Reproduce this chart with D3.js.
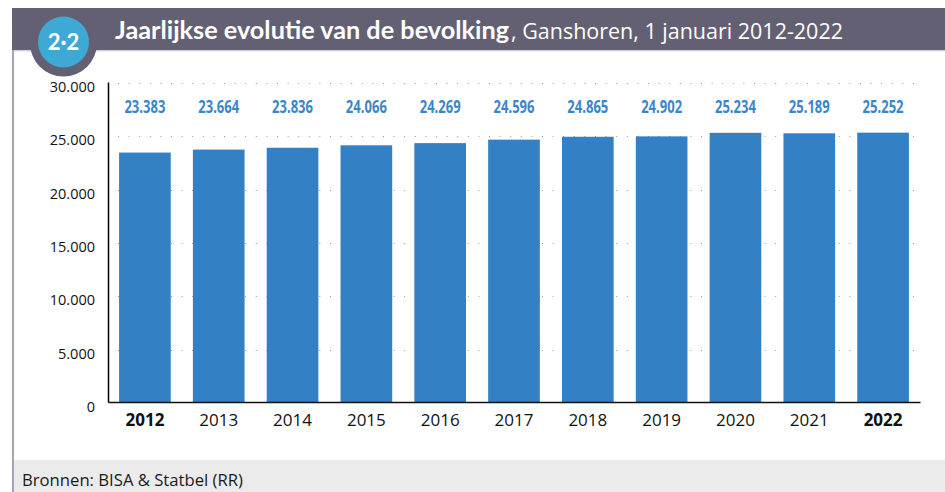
<!DOCTYPE html>
<html>
<head>
<meta charset="utf-8">
<script src="https://cdn.jsdelivr.net/npm/d3@7"></script>
<style>
  body { margin: 0; background: #fff; }
  svg { display: block; }
</style>
</head>
<body>
<div id="chart-area"></div>
<script>
// data
var years = ["2012", "2013", "2014", "2015", "2016", "2017", "2018", "2019", "2020", "2021", "2022"]
var population = [23383, 23664, 23836, 24066, 24269, 24596, 24865, 24902, 25234, 25189, 25252]
var boldYears = ["2012", "2022"]
var yTicks = [0, 5000, 10000, 15000, 20000, 25000, 30000]

var width = 945, height = 492

var svg = d3.select("#chart-area").append("svg")
    .attr("width", width)
    .attr("height", height)

// frame: left border, header band, footer band
svg.append("rect")
    .attr("x", 12).attr("y", 8).attr("width", 2).attr("height", height - 8)
    .attr("fill", "#a7a4b4")
svg.append("rect")
    .attr("x", 12).attr("y", 8).attr("width", width - 12).attr("height", 42)
    .attr("fill", "#646073")
svg.append("rect")
    .attr("x", 14).attr("y", 50).attr("width", width - 14).attr("height", 1.5)
    .attr("fill", "#d6d4de")
svg.append("rect")
    .attr("x", 14).attr("y", 460).attr("width", width - 14).attr("height", 32)
    .attr("fill", "#ebebeb")

// badge
svg.append("circle").attr("cx", 63.5).attr("cy", 43).attr("r", 33.5).attr("fill", "#646073")
svg.append("circle").attr("cx", 63.5).attr("cy", 42).attr("r", 25.5).attr("fill", "#3fa9d6")
svg.append("text")
    .attr("x", 63.5).attr("y", 50)
    .attr("text-anchor", "middle")
    .attr("fill", "#fff")
    .attr("font-family", "Lato, 'DejaVu Sans', sans-serif")
    .attr("font-weight", "bold")
    .attr("font-size", 22)
    .text("2·2")

// title (two pieces)
svg.append("text")
    .attr("x", 115).attr("y", 39)
    .attr("fill", "#fff")
    .attr("font-family", "Lato, sans-serif")
    .attr("font-weight", "bold").attr("font-size", 24)
    .attr("textLength", 394).attr("lengthAdjust", "spacingAndGlyphs")
    .text("Jaarlijkse evolutie van de bevolking")
svg.append("text")
    .attr("x", 511).attr("y", 39)
    .attr("fill", "#fff")
    .attr("font-family", "'Open Sans', sans-serif")
    .attr("font-size", 21)
    .attr("textLength", 332).attr("lengthAdjust", "spacingAndGlyphs")
    .text(", Ganshoren, 1 januari 2012-2022")

// footer text
svg.append("text")
    .attr("x", 22).attr("y", 486)
    .attr("fill", "#1a1a1a")
    .attr("font-family", "'Open Sans', sans-serif")
    .attr("font-size", 16)
    .attr("textLength", 221).attr("lengthAdjust", "spacingAndGlyphs")
    .text("Bronnen: BISA & Statbel (RR)")

// scales
var x = d3.scaleBand()
    .domain(years)
    .range([108, 920])
    .paddingInner(0.3)
    .paddingOuter(0.15)

var y = d3.scaleLinear()
    .domain([0, 30000])
    .range([402, 82])

// dotted gridlines
svg.append("g")
    .selectAll("line")
    .data(yTicks.filter(function(d){ return d > 0 }))
    .enter()
    .append("line")
    .attr("x1", 118).attr("x2", 920)
    .attr("y1", function(d){ return Math.round(y(d)) + 1.5 })
    .attr("y2", function(d){ return Math.round(y(d)) + 1.5 })
    .attr("stroke", "#999")
    .attr("stroke-width", 1)
    .attr("stroke-dasharray", "1,9.6")

// bars
svg.append("g")
    .selectAll("rect")
    .data(population)
    .enter()
    .append("rect")
    .attr("x", function(d, i){ return x(years[i]) })
    .attr("y", function(d){ return y(d) })
    .attr("width", x.bandwidth())
    .attr("height", function(d){ return y(0) - y(d) })
    .attr("fill", "#3380c4")

// value labels
var fmt = d3.formatLocale({decimal: ",", thousands: ".", grouping: [3], currency: ["€", ""]}).format(",")
svg.append("g")
    .selectAll("text")
    .data(population)
    .enter()
    .append("text")
    .attr("x", function(d, i){ return x(years[i]) + x.bandwidth() / 2 - 20.5 })
    .attr("y", 112.5)
    .attr("fill", "#3a86c9")
    .attr("font-family", "'Open Sans', sans-serif")
    .attr("font-weight", "bold")
    .attr("font-size", 17)
    .attr("textLength", 41).attr("lengthAdjust", "spacingAndGlyphs")
    .text(function(d){ return fmt(d) })

// y axis
var yAxis = d3.axisLeft(y)
    .tickValues(yTicks)
    .tickSize(0)
    .tickPadding(13)
    .tickFormat(function(d){ return fmt(d) })
var gy = svg.append("g")
    .attr("transform", "translate(108,0)")
    .call(yAxis)
gy.select(".domain").attr("stroke", "#000").attr("stroke-width", 1.5)
gy.selectAll("text")
    .attr("font-family", "'Open Sans', sans-serif")
    .attr("font-size", 14.5)
    .attr("fill", "#111")
    .attr("dy", "0.65em")

// x axis
var xAxis = d3.axisBottom(x).tickSize(0).tickPadding(12)
var gx = svg.append("g")
    .attr("transform", "translate(0," + y(0) + ")")
    .call(xAxis)
gx.select(".domain").attr("stroke", "#111").attr("stroke-width", 1.5)
gx.selectAll("text")
    .attr("font-family", "'Open Sans', sans-serif")
    .attr("font-size", 17)
    .attr("fill", "#111")
    .attr("font-weight", function(d){ return boldYears.indexOf(d) >= 0 ? "bold" : "normal" })
</script>
</body>
</html>
